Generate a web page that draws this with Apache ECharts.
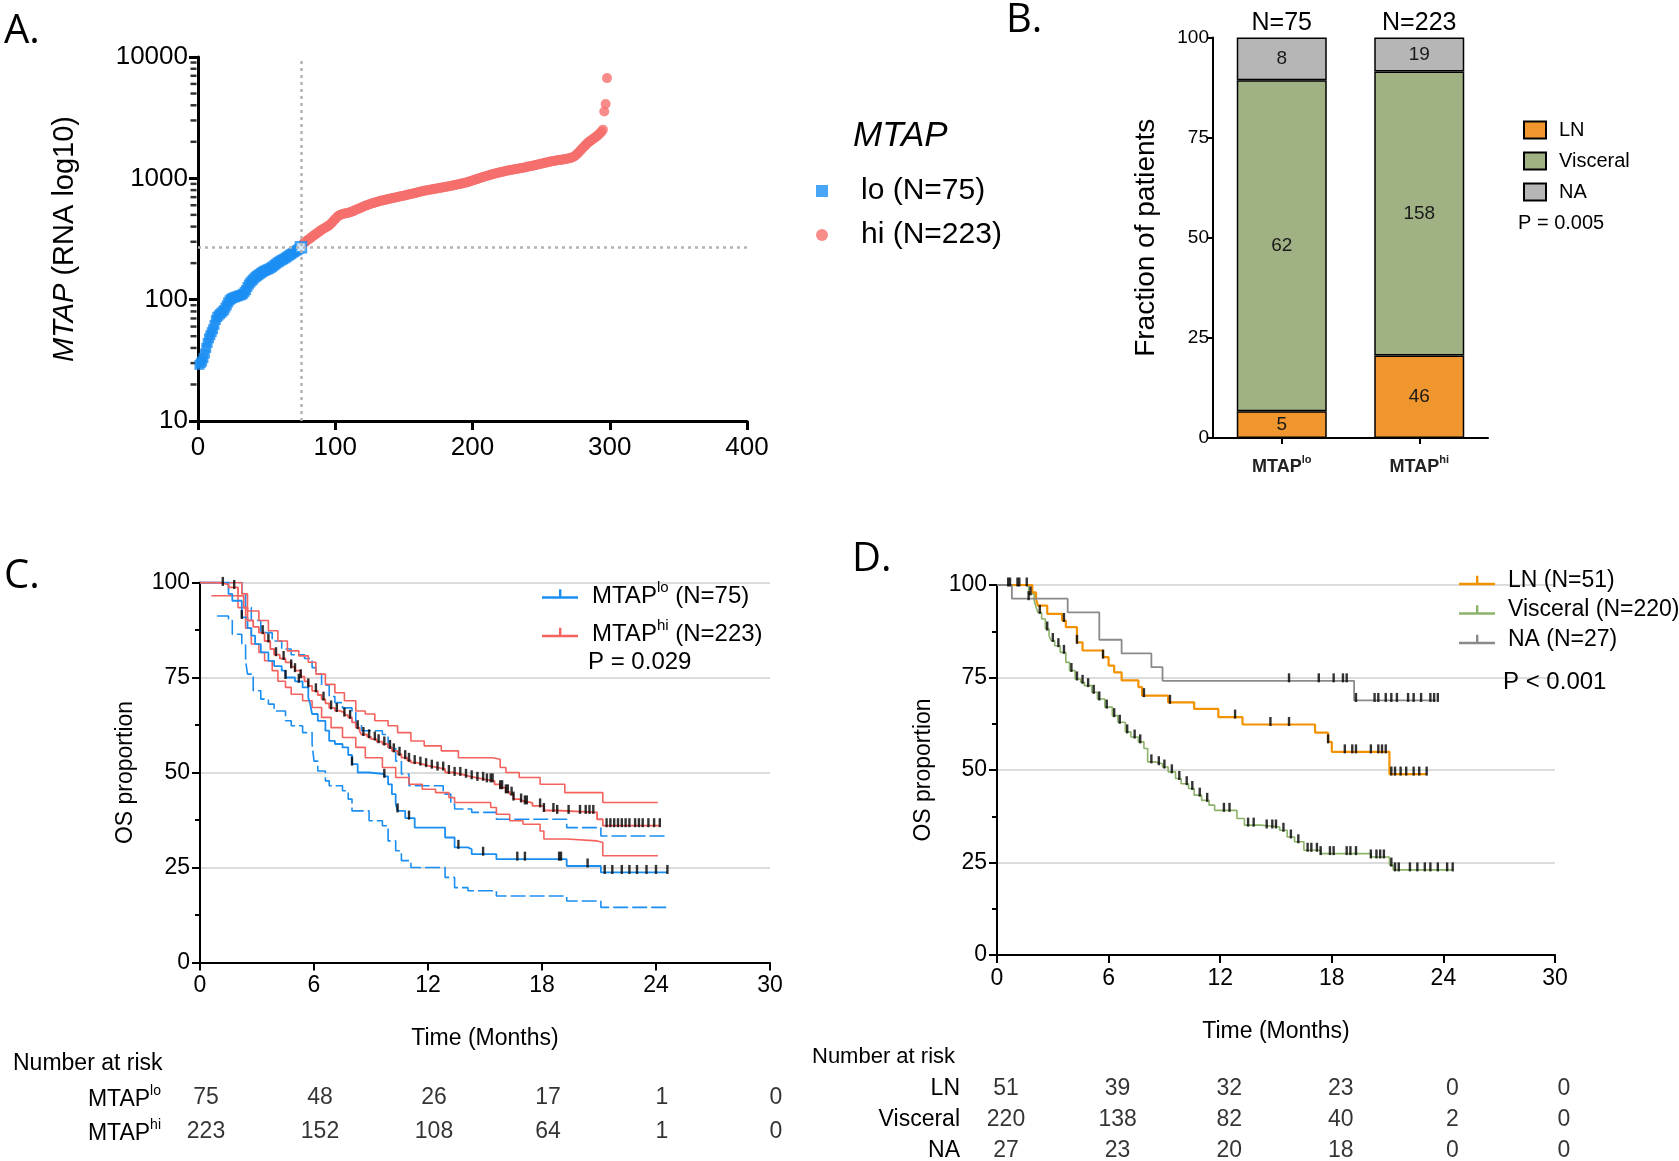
<!DOCTYPE html>
<html><head><meta charset="utf-8">
<script src="https://cdn.jsdelivr.net/npm/echarts@6/dist/echarts.min.js"></script>
<style>html,body{margin:0;padding:0;background:#fff}#c{width:1679px;height:1161px}</style>
</head><body><div id="c"></div>
<script>
// ---------- Panel A: MTAP RNA (sorted) ----------
const mtapLo = [29,30,31,33,36,40,44,48,51,54,
  57,62,68,72,74,76,78,80,82,86,
  90,95,99,101,103,104,105,106,107,108,
  109,110,112,116,120,127,133,138,142,146,
  150,154,157,160,163,166,169,172,174,176,
  178,180,183,186,190,194,198,202,205,209,
  212,215,218,222,226,230,234,238,243,247,
  251,255,259,264,270];
const mtapHi = [285,292,298,304,310,316,322,329,336,342,
  348,355,362,369,376,382,388,394,400,406,
  414,424,436,450,462,476,488,496,502,506,
  510,513,516,519,522,526,531,537,543,550,
  556,562,568,574,580,588,594,600,606,612,
  617,622,627,632,637,642,648,652,656,660,
  664,668,672,676,680,684,688,692,696,700,
  704,708,712,716,720,724,729,734,738,742,
  746,751,756,761,766,771,776,781,786,790,
  794,798,802,806,810,814,818,822,826,830,
  834,838,842,846,850,854,858,862,866,870,
  875,880,885,890,895,900,905,910,915,920,
  927,935,943,951,960,968,976,985,994,1003,
  1012,1020,1028,1036,1044,1052,1060,1068,1076,1084,
  1092,1099,1106,1113,1120,1127,1134,1141,1148,1155,
  1160,1165,1170,1175,1181,1187,1193,1199,1205,1211,
  1217,1223,1230,1237,1244,1251,1258,1265,1272,1279,
  1287,1295,1303,1311,1319,1327,1335,1343,1351,1359,
  1367,1375,1383,1390,1396,1402,1408,1414,1420,1426,
  1432,1438,1444,1450,1458,1468,1480,1495,1515,1545,
  1580,1620,1665,1710,1760,1810,1860,1910,1960,2000,
  2040,2080,2120,2160,2200,2250,2300,2360,2420,2520,
  3550,4100,6700];
const cutRank = 75;
const cutValue = 272;
const logDecades = [10, 100, 1000];

// ---------- Panel B: site of metastasis ----------
const groupsB = ['MTAPlo', 'MTAPhi'];
const totalsB = [75, 223];
const lnB = [5, 46];
const visceralB = [62, 158];
const naB = [8, 19];

// ---------- Panel C: OS by MTAP (KM estimates and 95% CI) ----------
const hiEst = [[0,100],[1.0,99.5],[1.5,98.7],[2.0,96.5],[2.3,93.4],[2.5,90],[2.8,88.3],[3.1,86.8],[3.4,84.6],[3.7,82.5],[3.9,81],[4.2,80],[4.5,79],[4.8,77.8],[5.0,76.8],[5.3,75.2],[5.5,74],[5.7,72.8],[5.9,71.5],[6.2,70.4],[6.4,69.3],[6.6,68.2],[6.8,67],[7.1,66.3],[7.3,65.8],[7.6,65.1],[7.8,64.5],[8.0,63.2],[8.2,61.8],[8.4,60.9],[8.5,60],[8.8,59.4],[9.0,58.8],[9.3,58.1],[9.6,57.5],[9.9,56.6],[10.1,55.7],[10.4,54.8],[10.6,53.9],[10.9,53.2],[11.1,52.6],[11.4,52.2],[11.7,51.8],[12.0,51.4],[12.4,50.9],[12.9,50],[13.3,49.5],[13.8,49],[14.2,48.6],[14.6,48.2],[15.0,47.8],[15.5,46.9],[15.8,46],[16.1,44.9],[16.3,44.3],[16.5,43],[16.8,42.5],[17.0,42],[17.5,41.2],[18.1,40],[18.8,39.5],[20.9,37.7],[21.2,36],[24.2,36]];
const hiUp = [[0,100],[2.2,97],[2.5,92.5],[3.1,90],[3.6,87.3],[4.1,84.6],[4.6,82],[5.2,80.7],[5.7,79],[6.1,75.9],[6.6,73.2],[7.1,71],[7.6,68.9],[8.2,66.2],[8.7,65.4],[9.2,63.6],[9.9,62.3],[10.4,60.5],[11.1,58.3],[11.8,57],[12.7,55.7],[13.6,53.9],[15.4,53.5],[15.8,51.3],[16.1,50],[16.8,48.7],[17.9,46.9],[19.2,44.7],[21.2,42.1],[24.1,42.1]];
const hiLow = [[0.6,96.5],[2.0,93.4],[2.4,88],[2.7,83.8],[3.1,81.6],[3.4,79.4],[3.8,76.8],[4.1,74],[4.5,72.4],[4.8,70.6],[5.4,68.9],[5.9,67.1],[6.4,64.5],[6.9,61.8],[7.5,59.2],[8.2,56.6],[8.7,53.9],[9.6,51.3],[10.3,48.7],[11.0,46.9],[11.7,45.6],[12.4,44.7],[13.1,43.4],[13.4,42.1],[15.3,40.8],[15.6,39],[16.3,37.3],[17.0,36.4],[17.9,34.6],[18.1,32.5],[19.3,32],[20.9,31.6],[21.2,28.1],[24.1,28.1]];
const loEst = [[0,100],[1.5,97],[1.7,95.2],[2.2,90.8],[2.5,88],[2.7,86],[2.9,83.8],[3.2,81.6],[3.6,79.4],[3.9,78],[4.3,76.8],[4.5,75],[5.0,74],[5.4,72.4],[5.7,69.7],[5.8,68],[5.9,65.4],[6.2,63.6],[6.6,61],[6.8,58.3],[7.1,57.5],[7.5,56.6],[7.8,54.6],[8.0,52.2],[8.3,50],[8.9,49.6],[9.7,49],[9.9,46.9],[10.1,44.3],[10.3,41.7],[10.4,39.9],[10.8,38],[11.3,35.5],[12.9,32.9],[13.4,30.3],[14.1,29.8],[14.3,28.5],[15.6,27.2],[19.3,25.4],[21.1,23.7],[24.6,23.7]];
const loUp = [[0,100],[2.2,97.4],[2.4,93.4],[2.7,90],[3.2,86.8],[3.8,84.6],[4.3,82.5],[4.8,81],[5.5,80],[5.9,77.6],[6.1,75.9],[6.4,73],[6.8,70],[7.1,68.4],[7.5,67],[8.0,65.8],[8.2,62.7],[8.5,61],[9.6,60],[9.9,56.6],[10.3,53],[10.6,49.6],[11.0,46.5],[12.8,44.3],[13.2,41.7],[13.4,40.4],[14.3,39.5],[15.6,37.7],[19.3,35.5],[21.1,33.3],[24.6,33.3]];
const loLow = [[0.9,91.2],[1.5,90],[1.7,86.4],[2.2,83.8],[2.4,79.4],[2.5,75.9],[2.8,71.5],[3.2,69.3],[3.6,68],[3.9,66.2],[4.5,63.6],[4.8,62.3],[5.4,60.5],[5.9,57.5],[6.0,53],[6.2,50.4],[6.6,47.8],[6.8,46.5],[7.5,45.2],[7.8,43],[8.0,39.9],[8.9,37.3],[9.6,36],[9.9,32],[10.3,29.4],[10.6,26.8],[11.1,25],[12.9,22.4],[13.4,19.7],[14.1,18.9],[15.6,17.5],[19.3,16.2],[21.1,14.5],[24.6,14.5]];
const hiCensor = [1.2,1.8,3.3,3.6,4.0,4.4,4.8,5.0,5.3,5.7,6.1,6.5,6.9,7.2,7.6,7.9,8.3,8.6,8.9,9.2,9.4,9.7,10.0,10.2,10.5,10.8,11.0,11.3,11.6,11.9,12.2,12.5,12.8,13.1,13.4,13.7,14.0,14.3,14.6,14.9,15.1,15.3,15.4,15.8,15.9,16.1,16.2,16.4,16.5,16.9,17.1,17.2,17.9,18.1,18.6,18.8,19.4,20.0,20.3,20.5,20.7,21.4,21.6,21.8,22.0,22.2,22.4,22.6,22.9,23.1,23.3,23.6,23.9,24.2];
const loCensor = [2.2,4.5,5.2,8.0,9.7,10.4,11.0,13.6,14.9,16.7,17.1,18.9,19.0,20.4,21.3,21.7,22.2,22.6,23.0,23.5,24.0,24.6];
const riskTimes = [0, 6, 12, 18, 24, 30];
const riskC = {MTAPlo: [75, 48, 26, 17, 1, 0], MTAPhi: [223, 152, 108, 64, 1, 0]};

// ---------- Panel D: OS by site ----------
const lnKM = [[0,100],[1.9,98],[2.1,96.2],[2.2,94.4],[2.7,92.2],[3.5,90.4],[3.7,88.6],[4.3,84.5],[4.6,82.3],[5.7,80.5],[6.0,78.2],[6.3,76.4],[6.7,74.2],[7.6,72.4],[7.8,70.1],[9.2,68.3],[10.6,66.5],[11.9,64.3],[13.2,62.3],[17.1,60.1],[17.8,57.6],[18.0,54.9],[21.1,48.9],[23.1,48.9]];
const visceralKM = [[0,100],[1.7,97.6],[2.0,95.8],[2.1,94],[2.2,92.6],[2.4,90.8],[2.6,88.1],[2.8,86.3],[2.9,85],[3.1,83.6],[3.4,81.8],[3.7,79.1],[3.9,76.9],[4.2,74.6],[4.5,73.7],[4.7,72.8],[5.1,71],[5.4,69.2],[5.8,67],[6.2,64.7],[6.5,62.9],[6.9,60.3],[7.2,58.9],[7.6,57.6],[7.9,55.8],[8.1,52.2],[8.5,51.7],[8.9,50.8],[9.2,49.5],[9.6,47.7],[9.9,46.3],[10.3,45],[10.6,43.2],[11.0,41.8],[11.4,40.5],[11.7,39.1],[12.9,36.9],[13.3,35.1],[14.2,34.6],[15.2,33.7],[15.6,31.9],[16.0,30.6],[16.5,28.3],[17.4,27.4],[20.1,26.5],[21.1,24.3],[21.3,23],[24.5,23]];
const naKM = [[0,100],[0.8,96.3],[3.8,92.6],[5.5,85.2],[6.7,81.5],[8.3,77.8],[8.9,74.1],[19.2,68.8],[23.6,68.8]];
const lnCensor = [0.6,1.2,3.6,4.3,5.7,7.9,9.3,12.8,14.7,15.7,17.8,18.7,19.1,19.3,20.1,20.5,20.7,20.9,21.2,21.4,21.7,22.0,22.4,22.7,23.1];
const visceralCensor = [1.1,1.6,1.8,2.3,2.7,3.0,3.3,3.6,4.0,4.3,4.6,4.9,5.2,5.5,5.9,6.3,6.6,7.0,7.4,7.7,8.3,8.7,9.0,9.4,9.8,10.2,10.5,10.9,11.3,12.2,12.5,13.5,13.8,14.5,14.8,15.0,15.4,15.8,16.2,16.7,16.9,17.2,17.4,17.9,18.1,18.8,19.0,19.3,20.1,20.4,20.6,20.8,21.2,21.4,21.6,22.2,22.6,23.0,23.3,23.7,24.2,24.5];
const naCensor = [0.7,1.7,15.7,17.3,18.1,18.6,18.8,19.3,20.3,20.5,20.9,21.2,21.5,22.1,22.4,22.8,23.3,23.5,23.7];
const riskD = {LN: [51, 39, 32, 23, 0, 0], Visceral: [220, 138, 82, 40, 2, 0], NA: [27, 23, 20, 18, 0, 0]};

// ---------- helpers ----------
const FONT = '"Liberation Sans", Arial, sans-serif';
const LETTER_FONT = '"Open Sans", sans-serif';
const BLUE = '#1b8ef2', RED = '#f4625e', REDDOT = '#f56f6d';
const ORANGE_B = '#f0962e', GREEN_B = '#a0b284', GRAY_B = '#b6b6b6';
const ORANGE_D = '#f39200', GREEN_D = '#8db36a', GRAY_D = '#8a8a8a';
const txt = (fs, extra) => Object.assign({fontSize: fs, color: '#000', fontFamily: FONT, fontWeight: 'normal'}, extra || {});

function stepAt(curve, t) {
  let s = curve[0][1];
  for (const p of curve) { if (p[0] <= t) s = p[1]; else break; }
  return s;
}
function censorData(times, curve) { return times.map(t => [t, stepAt(curve, t)]); }
function riskData(table) {
  const out = [];
  Object.keys(table).forEach(k => table[k].forEach((n, i) => out.push([riskTimes[i], k, n])));
  return out;
}
const supRich = (fs, extra) => ({
  n: txt(fs, Object.assign({verticalAlign: 'bottom', lineHeight: fs + 4}, extra || {})),
  s: txt(Math.round(fs * 0.62), Object.assign({verticalAlign: 'top', lineHeight: fs + 4}, extra || {}))
});
const supFmt = (v) => {
  const m = /^MTAP(lo|hi)(.*)$/.exec(v);
  if (!m) return '{n|' + v + '}';
  return '{n|MTAP}{s|' + m[1] + '}' + (m[2] ? '{n|' + m[2] + '}' : '');
};
const blackLine = (w) => ({show: true, lineStyle: {color: '#000', width: w}});
const blackTick = (len, w) => ({show: true, inside: false, length: len, lineStyle: {color: '#000', width: w}});
const kmIcon = 'path://M0,9h36v2.4h-36z M17,2h2.4v8h-2.4z';

// minor tick values of the log axis (2..9 x each decade), placed by the log axis itself
const minorLogValues = [];
logDecades.forEach(d => { for (let k = 2; k <= 9; k++) minorLogValues.push(k * d); });

const loPoints = mtapLo.map((v, i) => {
  const item = {value: [i + 1, v]};
  if (i + 1 === cutRank) item.itemStyle = {color: '#ffffff', borderColor: BLUE, borderWidth: 2.5};
  return item;
});
const hiPoints = mtapHi.map((v, i) => [mtapLo.length + 1 + i, v]);

const pct = (arr) => arr.map((c, i) => c / totalsB[i] * 100);

function barSeries(name, counts, color) {
  return {
    name, type: 'bar', stack: 'b', xAxisIndex: 1, yAxisIndex: 1, barWidth: 90,
    data: pct(counts),
    itemStyle: {color, borderColor: '#000', borderWidth: 1.5},
    label: Object.assign({show: true, position: 'inside', formatter: p => String(counts[p.dataIndex])}, txt(19, {color: '#1a1a1a'}))
  };
}
function kmLine(name, data, color, width, xi, yi, type, z) {
  return {name, type: 'line', step: 'end', xAxisIndex: xi, yAxisIndex: yi, data, symbol: 'none', silent: true,
    z: z || 3, lineStyle: {color, width, type: type || 'solid'}, itemStyle: {color}};
}
function censor(data, xi, yi) {
  return {type: 'scatter', xAxisIndex: xi, yAxisIndex: yi, data, symbol: 'rect', symbolSize: [2.4, 9],
    symbolOffset: [0, -3], silent: true, z: 6, itemStyle: {color: '#000'}};
}
function kmXAxis(grid, gap) {
  return {gridIndex: grid, type: 'value', min: 0, max: 30, interval: 6,
    axisLine: blackLine(2), axisTick: blackTick(8, 2), splitLine: {show: false},
    axisLabel: txt(23, {margin: 12}),
    name: 'Time (Months)', nameLocation: 'middle', nameGap: gap,
    nameTextStyle: txt(23)};
}
function kmYAxis(grid, gap) {
  return {gridIndex: grid, type: 'value', min: 0, max: 100, interval: 25,
    axisLine: blackLine(2), axisTick: blackTick(8, 2),
    minorTick: {show: true, splitNumber: 2, length: 5, lineStyle: {color: '#000', width: 2}},
    minorSplitLine: {show: false},
    splitLine: {show: true, lineStyle: {color: '#dcdcdc', width: 2}},
    axisLabel: txt(23, {margin: 10}),
    name: 'OS proportion', nameLocation: 'middle', nameGap: gap, nameRotate: 90,
    nameTextStyle: txt(23)};
}
const letter = (t, left, top) => ({text: t, left, top, padding: 0, textStyle: {fontSize: 40, fontWeight: 'normal', fontFamily: LETTER_FONT, color: '#000'}});
const note = (t, left, top, fs, extra) => ({text: t, left, top, padding: 0, textStyle: txt(fs, extra)});

const option = {
  animation: false,
  backgroundColor: '#ffffff',
  textStyle: {fontFamily: FONT, color: '#000'},
  title: [
    letter('A.', 4, 12), letter('B.', 1006, 1), letter('C.', 4, 557), letter('D.', 852, 540),
    note('MTAP', 853, 119, 35, {fontStyle: 'italic'}),
    note('P = 0.005', 1518, 213, 20),
    note('P = 0.029', 588, 650, 24),
    note('P < 0.001', 1503, 670, 24),
    note('Number at risk', 13, 1052, 23),
    note('Number at risk', 812, 1046, 22)
  ],
  legend: [
    {data: ['lo (N=75)', 'hi (N=223)'], left: 811, top: 171, orient: 'vertical', selectedMode: false,
      itemWidth: 12, itemHeight: 12, itemGap: 14,
      formatter: n => '{t|' + n + '}',
      textStyle: {rich: {t: txt(30, {padding: [0, 0, 0, 28], lineHeight: 34})}}},
    {data: ['LN', 'Visceral', 'NA'], left: 1518, top: 115, orient: 'vertical', selectedMode: false,
      itemWidth: 22, itemHeight: 17, itemGap: 11, icon: 'rect',
      formatter: n => '{t|' + n + '}',
      textStyle: {rich: {t: txt(20, {padding: [0, 0, 0, 8], lineHeight: 22})}}},
    {data: ['MTAPlo (N=75)', 'MTAPhi (N=223)'], left: 537, top: 575, orient: 'vertical', selectedMode: false,
      itemWidth: 36, itemHeight: 12, itemGap: 10.5, icon: kmIcon,
      formatter: v => '{p|}' + supFmt(v), textStyle: {rich: Object.assign(supRich(24, {lineHeight: 28}), {p: {width: 9, lineHeight: 28}})}},
    {data: ['LN (N=51)', 'Visceral (N=220)', 'NA (N=27)'], left: 1454, top: 564, orient: 'vertical', selectedMode: false,
      itemWidth: 36, itemHeight: 12, itemGap: 6.5, icon: kmIcon,
      formatter: n => '{t|' + n + '}',
      textStyle: {rich: {t: txt(23, {padding: [0, 0, 0, 8], lineHeight: 28})}}}
  ],
  grid: [
    {left: 198, top: 57, width: 549, height: 364, outerBoundsMode: 'none'},
    {left: 1213, top: 37.5, width: 275, height: 400.5, outerBoundsMode: 'none'},
    {left: 200, top: 582.5, width: 570, height: 380, outerBoundsMode: 'none'},
    {left: 997, top: 585, width: 558, height: 370, outerBoundsMode: 'none'},
    {left: 200, top: 1081, width: 570, height: 68, outerBoundsMode: 'none'},
    {left: 997, top: 1073.5, width: 558, height: 93, outerBoundsMode: 'none'}
  ],
  xAxis: [
    {gridIndex: 0, type: 'value', min: 0, max: 400, interval: 100,
      axisLine: blackLine(3), axisTick: blackTick(9, 3), splitLine: {show: false},
      axisLabel: txt(26, {margin: 14})},
    {gridIndex: 1, type: 'category', data: groupsB,
      axisLine: blackLine(2), axisTick: {show: true, alignWithLabel: true, length: 6, lineStyle: {color: '#000', width: 2}},
      axisLabel: {margin: 16, formatter: supFmt, rich: supRich(18, {fontWeight: 'bold', color: '#222'})}},
    {gridIndex: 1, type: 'category', position: 'top', data: totalsB.map(n => 'N=' + n),
      axisLine: {show: false}, axisTick: {show: false},
      axisLabel: txt(25, {margin: 2})},
    kmXAxis(2, 65),
    kmXAxis(3, 65),
    {gridIndex: 4, type: 'value', min: 0, max: 30, show: false},
    {gridIndex: 5, type: 'value', min: 0, max: 30, show: false}
  ],
  yAxis: [
    {gridIndex: 0, type: 'log', logBase: 10, min: 10, max: 10000,
      axisLine: blackLine(3), axisTick: blackTick(9, 3), splitLine: {show: false},
      axisLabel: txt(26, {margin: 10, formatter: v => String(Math.round(v))}),
      name: '{i|MTAP}{r| (RNA log10)}', nameLocation: 'middle', nameGap: 119, nameRotate: 90,
      nameTextStyle: {rich: {i: txt(29, {fontStyle: 'italic'}), r: txt(29)}}},
    {gridIndex: 1, type: 'value', min: 0, max: 100, interval: 25,
      axisLine: blackLine(2), axisTick: blackTick(6, 2), splitLine: {show: false},
      axisLabel: txt(19, {margin: 4}),
      name: 'Fraction of patients', nameLocation: 'middle', nameGap: 53, nameRotate: 90,
      nameTextStyle: txt(28)},
    kmYAxis(2, 63),
    kmYAxis(3, 62),
    {gridIndex: 4, type: 'category', inverse: true, data: Object.keys(riskC),
      axisLine: {show: false}, axisTick: {show: false}, splitLine: {show: false},
      axisLabel: {margin: 39, formatter: supFmt, rich: supRich(23)}},
    {gridIndex: 5, type: 'category', inverse: true, data: Object.keys(riskD),
      axisLine: {show: false}, axisTick: {show: false}, splitLine: {show: false},
      axisLabel: txt(23, {margin: 37})}
  ],
  series: [
    // Panel A minor log ticks on the y axis
    {type: 'scatter', xAxisIndex: 0, yAxisIndex: 0, data: minorLogValues.map(v => [0, v]),
      symbol: 'rect', symbolSize: [6, 2.5], symbolOffset: [-4.5, 0], silent: true, clip: false, z: 1,
      itemStyle: {color: '#000'}},
    // Panel A
    {name: 'lo (N=75)', type: 'scatter', xAxisIndex: 0, yAxisIndex: 0, data: loPoints,
      symbol: 'rect', symbolSize: 10, itemStyle: {color: BLUE}, z: 4,
      markLine: {silent: true, symbol: ['none', 'none'], label: {show: false},
        lineStyle: {color: '#b3b3b3', type: [3, 4], width: 2.5},
        data: [{xAxis: cutRank}, {yAxis: cutValue}]}},
    {name: 'hi (N=223)', type: 'scatter', xAxisIndex: 0, yAxisIndex: 0, data: hiPoints,
      symbol: 'circle', symbolSize: 10, itemStyle: {color: REDDOT}, z: 3},
    // Panel B
    barSeries('LN', lnB, ORANGE_B),
    barSeries('Visceral', visceralB, GREEN_B),
    barSeries('NA', naB, GRAY_B),
    // Panel C
    kmLine('loLowCI', loLow, BLUE, 1.6, 3, 2, [15, 4], 2),
    kmLine('loUpCI', loUp, BLUE, 1.6, 3, 2, [15, 4], 2),
    kmLine('hiLowCI', hiLow, RED, 1.6, 3, 2, 'solid', 2),
    kmLine('hiUpCI', hiUp, RED, 1.6, 3, 2, 'solid', 2),
    kmLine('MTAPlo (N=75)', loEst, BLUE, 1.8, 3, 2, 'solid', 4),
    kmLine('MTAPhi (N=223)', hiEst, RED, 1.8, 3, 2, 'solid', 4),
    censor(censorData(loCensor, loEst), 3, 2),
    censor(censorData(hiCensor, hiEst), 3, 2),
    {type: 'scatter', xAxisIndex: 5, yAxisIndex: 4, data: riskData(riskC), symbolSize: 1, silent: true,
      itemStyle: {color: 'rgba(0,0,0,0)'},
      label: Object.assign({show: true, position: 'inside', offset: [6, 0], formatter: p => String(p.value[2])}, txt(23))},
    // Panel D
    kmLine('Visceral (N=220)', visceralKM, GREEN_D, 1.6, 4, 3, 'solid', 3),
    kmLine('LN (N=51)', lnKM, ORANGE_D, 2.2, 4, 3, 'solid', 4),
    kmLine('NA (N=27)', naKM, GRAY_D, 1.8, 4, 3, 'solid', 4),
    censor(censorData(visceralCensor, visceralKM), 4, 3),
    censor(censorData(lnCensor, lnKM), 4, 3),
    censor(censorData(naCensor, naKM), 4, 3),
    {type: 'scatter', xAxisIndex: 6, yAxisIndex: 5, data: riskData(riskD), symbolSize: 1, silent: true,
      itemStyle: {color: 'rgba(0,0,0,0)'},
      label: Object.assign({show: true, position: 'inside', offset: [9, 0], formatter: p => String(p.value[2])}, txt(23))}
  ]
};

const chart = echarts.init(document.getElementById('c'), null, {renderer: 'canvas'});
chart.setOption(option);
</script></body></html>
